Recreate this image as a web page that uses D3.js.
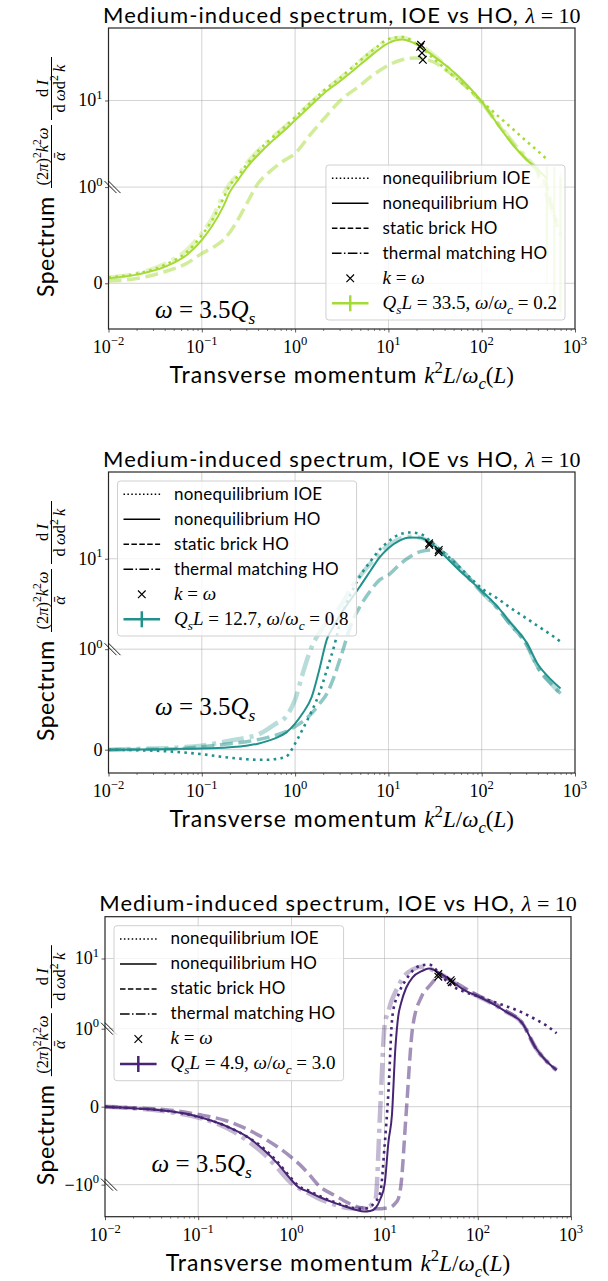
<!DOCTYPE html>
<html>
<head>
<meta charset="utf-8">
<script src="https://cdn.jsdelivr.net/npm/d3@7"></script>
<style>
  body { margin: 0; background: #fff; }
</style>
</head>
<body>
<script>

// ---- data ----
var kTicks = [0.01, 0.1, 1, 10, 100, 1000];
var kTickExp = ['\u22122', '\u22121', '0', '1', '2', '3'];

// panel 1 : QsL = 33.5
var p1K       = [0.01, 0.02, 0.04, 0.07, 0.1, 0.13, 0.17, 0.2, 0.25, 0.3, 0.4, 0.55, 0.75, 1, 1.5, 2, 3, 5, 7, 10, 14, 20, 30, 45, 70, 100, 150, 220, 300, 400, 500, 600, 700];
var p1IOE     = [0.06, 0.1, 0.19, 0.33, 0.5, 0.66, 0.88, 1.05, 1.38, 1.8, 2.6, 3.6, 4.8, 6.4, 9.6, 12.8, 18, 29, 39, 51, 54, 45, 31, 21, 14, 9.8, 6.6, 4.6, 3.4, 2.6, 2.1, null, null];
var p1HO      = [0.052, 0.09, 0.17, 0.3, 0.45, 0.6, 0.8, 0.95, 1.25, 1.65, 2.35, 3.3, 4.4, 5.9, 8.9, 11.9, 16.6, 26, 35, 46, 50.5, 44.5, 33, 23.5, 15, 9.7, 5.2, 3.0, 2.1, 1.6, 1.25, null, null];
var p1Brick   = [0.024, 0.05, 0.12, 0.21, 0.31, 0.37, 0.45, 0.53, 0.68, 0.82, 1.1, 1.55, 2.0, 2.45, 4.2, 6.0, 9.8, 15, 20, 25.5, 29.5, 31, 28, 21, 14, 9.5, 5.3, 3.1, 2.1, 1.5, 1.0, 0.7, 0.5];
var p1Thermal = [0.06, 0.1, 0.2, 0.35, 0.52, 0.68, 0.92, 1.1, 1.42, 1.85, 2.6, 3.6, 4.8, 6.3, 9.5, 12.6, 17.8, 28.5, 38.5, 50, 53, 46, 34, 23, 14.5, 9.5, 5.4, 3.2, 2.2, 1.5, 0.9, 0.7, 0.6];
var p1ErrK       = [400, 500, 600, 700];
var p1BrickErr   = [0.2, 0.7, 1.0, 0.8];
var p1ThermalErr = [0.3, 0.9, 1.0, 0.9];
var p1MarkK = [22.4, 21.9, 23.4, 22.9];
var p1MarkV = [44, 41.6, 29.5, 35.4];

// panel 2 : QsL = 12.7
var p2K       = [0.01, 0.02, 0.05, 0.1, 0.2, 0.3, 0.4, 0.5, 0.6, 0.8, 1, 1.2, 1.5, 1.8, 2.2, 2.6, 3.2, 4, 5, 6.5, 8, 10, 13, 17, 22, 30, 40, 55, 75, 100, 150, 200, 300, 400, 550, 700];
var p2IOE     = [0, -0.005, -0.02, -0.045, -0.08, -0.095, -0.1, -0.1, -0.095, -0.07, 0.06, 0.2, 0.38, 0.55, 0.8, 1.05, 2.4, 4.2, 6.5, 9.5, 12.5, 15.5, 18.5, 19.5, 18.8, 14.8, 11.5, 8.5, 6.2, 4.7, 3.6, 2.9, 2.2, 1.8, 1.45, 1.21];
var p2HO      = [0, 0.002, 0.008, 0.012, 0.025, 0.04, 0.06, 0.085, 0.11, 0.17, 0.26, 0.36, 0.52, 0.78, 1.3, 1.8, 2.6, 3.6, 5.0, 7.5, 10.3, 13.1, 15.8, 17.2, 17.1, 14.2, 10.8, 7.8, 5.8, 4.4, 2.9, 2.0, 1.2, 0.85, 0.7, 0.61];
var p2Brick   = [0, 0.003, 0.008, 0.03, 0.06, 0.08, 0.1, 0.12, 0.14, 0.18, 0.23, 0.28, 0.36, 0.45, 0.56, 0.72, 0.97, 1.9, 3.0, 4.5, 5.8, 6.6, 8.5, 10.5, 12, 12.5, 11.5, 8.5, 6.0, 4.3, 2.8, 1.9, 1.15, 0.82, 0.66, 0.56];
var p2Thermal = [0, 0.008, 0.02, 0.04, 0.09, 0.12, 0.15, 0.2, 0.25, 0.33, 0.5, 0.75, 1.05, 1.5, 2.0, 2.4, 3.2, 4.8, 6.5, 9, 11.5, 14, 16.5, 17.5, 17, 14.5, 11.2, 8.2, 5.9, 4.3, 2.8, 1.95, 1.15, 0.82, 0.66, 0.56];
var p2MarkK = [27.3, 34.7, 34.5, 27.5];
var p2MarkV = [14.8, 12.5, 11.8, 14.2];

// panel 3 : QsL = 4.9
var p3K       = [0.01, 0.02, 0.05, 0.1, 0.2, 0.35, 0.5, 0.7, 1, 1.2, 1.5, 2, 3, 4, 5, 6, 7, 8, 9, 10, 11, 12, 13, 14, 15, 17, 20, 25, 30, 40, 50, 70, 100, 150, 200, 300, 420, 550, 700];
var p3IOE     = [0, -0.02, -0.06, -0.13, -0.25, -0.40, -0.53, -0.70, -0.92, -1.05, -1.2, -1.45, -1.8, -2.05, -2.2, -2.2, -2.05, -1.75, -1.3, -0.5, 0.2, 1.3, 2.4, 3.0, 3.8, 5.0, 6.7, 8.0, 8.2, 5.8, 4.3, 3.4, 2.9, 2.4, 2.1, 1.7, 1.35, 1.1, 0.94];
var p3HO      = [0, -0.02, -0.06, -0.128, -0.25, -0.40, -0.55, -0.72, -0.94, -1.1, -1.25, -1.5, -1.85, -2.1, -2.3, -2.42, -2.38, -2.15, -1.6, -1.0, -0.45, -0.1, 0.72, 1.5, 2.3, 3.8, 5.4, 6.6, 7.2, 6.1, 5.0, 3.6, 2.9, 2.2, 1.75, 1.2, 0.75, 0.58, 0.47];
var p3Brick   = [0, -0.015, -0.045, -0.1, -0.18, -0.30, -0.40, -0.51, -0.65, -0.73, -0.85, -1.05, -1.45, -1.8, -2.05, -2.15, -2.2, -2.2, -2.2, -2.17, -2.15, -2.05, -1.85, -1.6, -1.0, -0.1, 1.05, 2.9, 4.0, 5.6, 5.0, 3.9, 3.0, 2.3, 1.8, 1.2, 0.75, 0.58, 0.47];
var p3Thermal = [0, -0.02, -0.07, -0.14, -0.27, -0.45, -0.6, -0.78, -0.98, -1.12, -1.3, -1.6, -1.95, -2.15, -2.2, -2.15, -2.0, -1.6, 0.0, 1.1, 1.8, 2.6, 3.3, 4.0, 4.8, 6.0, 7.0, 7.6, 7.2, 6.0, 5.0, 3.7, 2.9, 2.2, 1.75, 1.2, 0.75, 0.58, 0.47];
var p3MarkK = [37.7, 51.2, 52.5, 37.7];
var p3MarkV = [5.5, 4.9, 4.6, 6.0];

// ---- styles ----
var FS = 'Lato, "DejaVu Sans", sans-serif';
var FM = '"Liberation Serif", "DejaVu Serif", serif';

var styles = [
  { name: 'nonequilibrium IOE',  w: 2.6, dash: '2.6,4.3',     op: 1,    lw: 1.5, ldash: '1.5,2.4' },
  { name: 'nonequilibrium HO',   w: 2,   dash: null,          op: 1,    lw: 1.5, ldash: null },
  { name: 'static brick HO',     w: 3.5, dash: '13,5.6',      op: 0.5,  lw: 1.5, ldash: '5.5,2.4' },
  { name: 'thermal matching HO', w: 4.5, dash: '22,6,4,6',    op: 0.32, lw: 1.5, ldash: '9.6,2.4,1.5,2.4' }
];

var panels = [
  { left: 108.5, right: 575, top: 28, bottom: 329, yMin: -0.475, yMax: 68.7,
    yTicks: [0, 1, 10], breaks: [1], color: '#a5db36', legendAt: 'br', noteDy: 11,
    k: p1K, series: [p1IOE, p1HO, p1Brick, p1Thermal],
    errK: p1ErrK, err: [null, null, p1BrickErr, p1ThermalErr],
    markK: p1MarkK, markV: p1MarkV, qsl: '33.5', ratio: '0.2' },
  { left: 108.5, right: 575, top: 472, bottom: 773, yMin: -0.232, yMax: 91,
    yTicks: [0, 1, 10], breaks: [1], color: '#21918c', legendAt: 'tl', noteDy: 58,
    k: p2K, series: [p2IOE, p2HO, p2Brick, p2Thermal],
    errK: [], err: [null, null, null, null],
    markK: p2MarkK, markV: p2MarkV, qsl: '12.7', ratio: '0.8' },
  { left: 105, right: 571, top: 916.7, bottom: 1216.7, yMin: -2.86, yMax: 39.4,
    yTicks: [-1, 0, 1, 10], breaks: [1, -1], color: '#482475', legendAt: 'tl', noteDy: 45,
    k: p3K, series: [p3IOE, p3HO, p3Brick, p3Thermal],
    errK: [], err: [null, null, null, null],
    markK: p3MarkK, markV: p3MarkV, qsl: '4.9', ratio: '3.0' }
];

// matplotlib-style symlog, linthresh 1, linscale 1
function symT(v) {
  var c = 1 / (1 - 1 / 10), a = Math.abs(v);
  return (v < 0 ? -1 : 1) * (a <= 1 ? a * c : c + Math.log10(a));
}

// text runs: flags  i = italic, m = math font, ^ = superscript, _ = subscript
function runs(text, list, fs) {
  var off = 0;
  list.forEach(function(r) {
    var s = r[0], f = r[1] || '';
    var tgt = f.indexOf('^') >= 0 ? -0.42 * fs : (f.indexOf('_') >= 0 ? 0.25 * fs : 0);
    var ts = text.append('tspan').text(s);
    if (tgt !== off) ts.attr('dy', tgt - off);
    off = tgt;
    if (f.indexOf('i') >= 0) ts.attr('font-style', 'italic');
    if (f.indexOf('m') >= 0) ts.attr('font-family', FM).attr('letter-spacing', 0);
    if (tgt !== 0) ts.attr('font-size', 0.7 * fs);
  });
  return text;
}

var svg = d3.select('body').append('svg')
  .attr('width', 608).attr('height', 1281)
  .style('display', 'block');

panels.forEach(function(P, pi) {
  var g = svg.append('g');
  var x = d3.scaleLog().domain([0.01, 1000]).range([P.left, P.right]);
  var yT = d3.scaleLinear().domain([symT(P.yMin), symT(P.yMax)]).range([P.bottom, P.top]);
  var y = function(v) { return yT(symT(v)); };
  var cx = (P.left + P.right) / 2, cy = (P.top + P.bottom) / 2;

  // grid
  g.selectAll('.gx').data(kTicks.slice(1, -1)).enter().append('line')
    .attr('x1', function(d) { return x(d); }).attr('x2', function(d) { return x(d); })
    .attr('y1', P.top).attr('y2', P.bottom)
    .attr('stroke', '#b0b0b0').attr('stroke-width', 0.8).attr('opacity', 0.7);
  g.selectAll('.gy').data(P.yTicks).enter().append('line')
    .attr('x1', P.left).attr('x2', P.right)
    .attr('y1', function(d) { return y(d); }).attr('y2', function(d) { return y(d); })
    .attr('stroke', '#b0b0b0').attr('stroke-width', 0.8).attr('opacity', 0.7);

  // curves
  var clipId = 'clip' + pi;
  svg.append('clipPath').attr('id', clipId).append('rect')
    .attr('x', P.left).attr('y', P.top)
    .attr('width', P.right - P.left).attr('height', P.bottom - P.top);
  var plot = g.append('g').attr('clip-path', 'url(#' + clipId + ')');

  var line = d3.line()
    .defined(function(d) { return d[1] !== null; })
    .x(function(d) { return x(d[0]); })
    .y(function(d) { return y(d[1]); })
    .curve(d3.curveMonotoneX);

  [3, 2, 0, 1].forEach(function(si) {
    var st = styles[si];
    var pts = P.k.map(function(k, i) { return [k, P.series[si][i]]; });
    plot.append('path').datum(pts)
      .attr('d', line)
      .attr('fill', 'none')
      .attr('stroke', P.color)
      .attr('stroke-width', st.w)
      .attr('stroke-dasharray', st.dash)
      .attr('stroke-opacity', st.op);
    if (P.err[si]) {
      P.errK.forEach(function(k, j) {
        var v = P.series[si][P.k.indexOf(k)], e = P.err[si][j];
        plot.append('line')
          .attr('x1', x(k)).attr('x2', x(k))
          .attr('y1', y(v - e)).attr('y2', y(v + e))
          .attr('stroke', P.color).attr('stroke-width', 2.5)
          .attr('stroke-opacity', st.op * 0.8);
      });
    }
  });

  // k = omega markers
  plot.selectAll('.mk').data(P.markK).enter().append('path')
    .attr('transform', function(d, i) { return 'translate(' + x(d) + ',' + y(P.markV[i]) + ')'; })
    .attr('d', 'M-3.8,-3.8L3.8,3.8M-3.8,3.8L3.8,-3.8')
    .attr('stroke', '#000').attr('stroke-width', 1.2);

  // axes
  var minor = [];
  for (var e = -2; e < 3; e++) for (var m = 2; m < 10; m++) minor.push(m * Math.pow(10, e));
  g.append('g').attr('transform', 'translate(0,' + P.bottom + ')')
    .call(d3.axisBottom(x).tickValues(minor).tickSize(2).tickFormat(''))
    .call(function(a) { a.select('.domain').remove(); a.selectAll('line').attr('stroke', '#333').attr('stroke-width', 0.6); });
  g.append('g').attr('transform', 'translate(0,' + P.bottom + ')')
    .call(d3.axisBottom(x).tickValues(kTicks).tickSize(3.5).tickFormat(''))
    .call(function(a) { a.select('.domain').remove(); a.selectAll('line').attr('stroke', '#333').attr('stroke-width', 0.8); });
  g.append('g').attr('transform', 'translate(' + P.left + ',0)')
    .call(d3.axisLeft(yT).tickValues(P.yTicks.map(symT)).tickSize(3.5).tickFormat(''))
    .call(function(a) { a.select('.domain').remove(); a.selectAll('line').attr('stroke', '#333').attr('stroke-width', 0.8); });

  g.append('rect')
    .attr('x', P.left).attr('y', P.top)
    .attr('width', P.right - P.left).attr('height', P.bottom - P.top)
    .attr('fill', 'none').attr('stroke', '#262626').attr('stroke-width', 1.2);

  // axis breaks
  P.breaks.forEach(function(b) {
    [0, 4].forEach(function(d) {
      g.append('line')
        .attr('x1', P.left - 4 + d).attr('y1', y(b) - 6)
        .attr('x2', P.left + 8 + d).attr('y2', y(b) + 6)
        .attr('stroke', '#000').attr('stroke-width', 0.9);
    });
  });

  // tick labels
  kTicks.forEach(function(t, i) {
    runs(g.append('text').attr('x', x(t)).attr('y', P.bottom + 24)
      .attr('text-anchor', 'middle').attr('font-family', FM).attr('font-size', 18),
      [['10'], [kTickExp[i], '^']], 18);
  });
  P.yTicks.forEach(function(t) {
    var lab = t === 0 ? [['0']] :
      [[t < 0 ? '\u221210' : '10'], [String(Math.round(Math.log10(Math.abs(t)))), '^']];
    runs(g.append('text').attr('x', P.left - 6).attr('y', y(t) + 6)
      .attr('text-anchor', 'end').attr('font-family', FM).attr('font-size', 18), lab, 18);
  });

  // title
  runs(g.append('text').attr('x', cx).attr('y', P.top - 5.5)
    .attr('text-anchor', 'middle').attr('font-family', FS).attr('font-size', 22)
    .attr('letter-spacing', 1.1),
    [['Medium-induced spectrum, IOE vs HO, '], ['\u03bb', 'im'], [' = 10', 'm']], 23);

  // x label
  runs(g.append('text').attr('x', cx).attr('y', P.bottom + 54)
    .attr('text-anchor', 'middle').attr('font-family', FS).attr('font-size', 23)
    .attr('letter-spacing', 1.0),
    [['Transverse momentum '], ['k', 'im'], ['2', 'm^'], ['L', 'im'], ['/', 'm'],
     ['\u03c9', 'im'], ['c', 'im_'], ['(', 'm'], ['L', 'im'], [')', 'm']], 24);

  // y label (rotated)
  var yl = g.append('g').attr('transform', 'translate(53.5,' + cy + ') rotate(-90)');
  yl.append('text').attr('x', -118.5).attr('y', 0)
    .attr('font-family', FS).attr('font-size', 23).attr('letter-spacing', 0.5).text('Spectrum');
  function frac(c, num, den) {
    yl.append('line').attr('x1', c - 31.5).attr('x2', c + 31.5)
      .attr('y1', -2).attr('y2', -2).attr('stroke', '#000').attr('stroke-width', 1);
    runs(yl.append('text').attr('x', c).attr('y', -6).attr('text-anchor', 'middle')
      .attr('font-family', FM).attr('font-size', 16.5), num, 16.5);
    runs(yl.append('text').attr('x', c).attr('y', 11).attr('text-anchor', 'middle')
      .attr('font-family', FM).attr('font-size', 16.5), den, 16.5);
  }
  frac(22, [['(2'], ['\u03c0', 'i'], [')'], ['2', '^'], ['k', 'i'], ['2', '^'], ['\u03c9', 'i']], [['\u1fb1', 'i']]);
  frac(90, [['d\u2009'], ['I', 'i']], [['d\u2009'], ['\u03c9', 'i'], ['d'], ['2', '^'], ['\u2009k', 'i']]);

  // annotation
  runs(g.append('text').attr('x', P.left + 46.5).attr('y', P.bottom - P.noteDy)
    .attr('font-family', FM).attr('font-size', 25),
    [['\u03c9', 'i'], [' = 3.5'], ['Q', 'i'], ['s', 'i_']], 25);

  // legend
  var lg = g.append('g');
  var box = lg.append('rect');
  var rows = lg.append('g');
  var rowY = function(i) { return 13.3 + i * 25; };
  styles.forEach(function(st, i) {
    rows.append('line').attr('x1', 6).attr('x2', 42.6)
      .attr('y1', rowY(i)).attr('y2', rowY(i))
      .attr('stroke', '#000').attr('stroke-width', st.lw)
      .attr('stroke-dasharray', st.ldash);
    rows.append('text').attr('x', 56.6).attr('y', rowY(i) + 5.5)
      .attr('font-family', FS).attr('font-size', 17).attr('letter-spacing', 0.2).text(st.name);
  });
  rows.append('path')
    .attr('transform', 'translate(24.3,' + rowY(4) + ')')
    .attr('d', 'M-3.8,-3.8L3.8,3.8M-3.8,3.8L3.8,-3.8')
    .attr('stroke', '#000').attr('stroke-width', 1.2);
  runs(rows.append('text').attr('x', 56.6).attr('y', rowY(4) + 5.5)
    .attr('font-family', FM).attr('font-size', 19),
    [['k', 'i'], [' = '], ['\u03c9', 'i']], 19);
  rows.append('line').attr('x1', 6).attr('x2', 42.6)
    .attr('y1', rowY(5)).attr('y2', rowY(5))
    .attr('stroke', P.color).attr('stroke-width', 2.5);
  rows.append('line').attr('x1', 24.3).attr('x2', 24.3)
    .attr('y1', rowY(5) - 8).attr('y2', rowY(5) + 8)
    .attr('stroke', P.color).attr('stroke-width', 2.5);
  runs(rows.append('text').attr('x', 56.6).attr('y', rowY(5) + 5.5)
    .attr('font-family', FM).attr('font-size', 19),
    [['Q', 'i'], ['s', 'i_'], ['L', 'i'], [' = ' + P.qsl + ', '], ['\u03c9', 'i'], ['/'],
     ['\u03c9', 'i'], ['c', 'i_'], [' = ' + P.ratio]], 19);

  var bb = rows.node().getBBox();
  var w = bb.x + bb.width + 8, h = 155;
  box.attr('width', w).attr('height', h).attr('rx', 3)
    .attr('fill', '#fff').attr('fill-opacity', 0.8)
    .attr('stroke', '#d0d0d0').attr('stroke-width', 1);
  var lx = P.legendAt === 'br' ? P.right - 10 - w : P.left + 9;
  var ly = P.legendAt === 'br' ? P.bottom - 9 - h : P.top + 9;
  lg.attr('transform', 'translate(' + lx + ',' + ly + ')');
});

</script>
</body>
</html>
